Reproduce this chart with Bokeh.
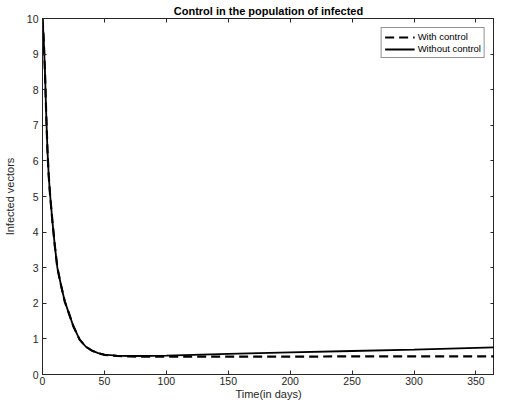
from bokeh.plotting import figure
from bokeh.models import LinearAxis, FixedTicker, Range1d, Legend, LegendItem
from bokeh.embed import file_html
from bokeh.resources import INLINE

# Data
t = [0, 1, 2, 3, 4, 5, 6, 8, 10, 12, 15, 18, 20, 25, 30, 35, 40, 45, 50, 60, 70, 80,
     100, 150, 200, 250, 300, 365]
without_control = [10.0, 9.4, 8.5, 7.3, 6.3, 5.6, 5.1, 4.3, 3.6, 3.0, 2.5, 2.05, 1.85, 1.35,
                   0.98, 0.78, 0.67, 0.60, 0.56, 0.53, 0.52, 0.52,
                   0.53, 0.58, 0.62, 0.66, 0.70, 0.76]
with_control = [10.0, 9.4, 8.5, 7.3, 6.3, 5.6, 5.1, 4.3, 3.6, 3.0, 2.5, 2.05, 1.85, 1.35,
                0.98, 0.78, 0.67, 0.60, 0.55, 0.52, 0.51, 0.50,
                0.50, 0.50, 0.50, 0.51, 0.51, 0.51]
x_ticks = [0, 50, 100, 150, 200, 250, 300, 350]
y_ticks = [0, 1, 2, 3, 4, 5, 6, 7, 8, 9, 10]

FONT = "Liberation Sans"
TXT = "#262626"

p = figure(width=494, height=402, output_backend="svg", toolbar_location=None,
           x_range=Range1d(0, 365), y_range=Range1d(0, 10),
           title="Control in the population of infected",
           min_border_left=12, min_border_right=0, min_border_top=0, min_border_bottom=0)
p.title.align = "center"
p.title.text_font = FONT
p.title.text_font_size = "11px"
p.title.text_font_style = "bold"
p.title.text_color = "black"
p.title.standoff = 4
p.title.offset = 0

p.xgrid.visible = False
p.ygrid.visible = False
p.outline_line_color = "#262626"
p.outline_line_width = 1
p.outline_line_alpha = 1

for ax, tk in ((p.xaxis[0], x_ticks), (p.yaxis[0], y_ticks)):
    ax.ticker = FixedTicker(ticks=tk)
    ax.major_tick_in = 4
    ax.major_tick_out = 0
    ax.minor_tick_line_color = None
    ax.axis_line_color = TXT
    ax.major_tick_line_color = TXT
    ax.major_label_text_font = FONT
    ax.major_label_text_font_size = "10.5px"
    ax.major_label_text_color = TXT
    ax.axis_label_text_font = FONT
    ax.axis_label_text_font_size = "11px"
    ax.axis_label_text_font_style = "normal"
    ax.axis_label_text_color = TXT
    ax.major_label_standoff = 4

p.xaxis.major_label_standoff = 2
p.xaxis.axis_label = "Time(in days)"
p.yaxis.axis_label = "Infected vectors"
p.xaxis.axis_label_standoff = 0
p.yaxis.axis_label_standoff = 8

for loc, tk in (("above", x_ticks), ("right", y_ticks)):
    ax = LinearAxis(ticker=FixedTicker(ticks=tk))
    ax.major_tick_in = 4
    ax.major_tick_out = 0
    ax.minor_tick_line_color = None
    ax.axis_line_color = TXT
    ax.major_tick_line_color = TXT
    ax.major_label_text_color = None
    ax.major_label_text_font_size = "1px"
    ax.major_label_standoff = 0
    ax.axis_label_standoff = 0
    p.add_layout(ax, loc)

r1 = p.line(t, with_control, line_color="black", line_width=2.2, line_dash="9 5")
r2 = p.line(t, without_control, line_color="black", line_width=1.8)

legend = Legend(items=[LegendItem(label="With control", renderers=[r1]),
                       LegendItem(label="Without control", renderers=[r2])],
                location="top_right")
legend.label_text_font = FONT
legend.label_text_font_size = "9.5px"
legend.label_text_color = "black"
legend.border_line_color = "#262626"
legend.border_line_width = 1
legend.glyph_width = 30
legend.glyph_height = 10
legend.label_height = 10
legend.spacing = 1
legend.padding = 3
legend.margin = 9
legend.label_standoff = 3
legend.background_fill_alpha = 1
p.add_layout(legend)

open("out.html", "w").write(file_html(p, INLINE))
